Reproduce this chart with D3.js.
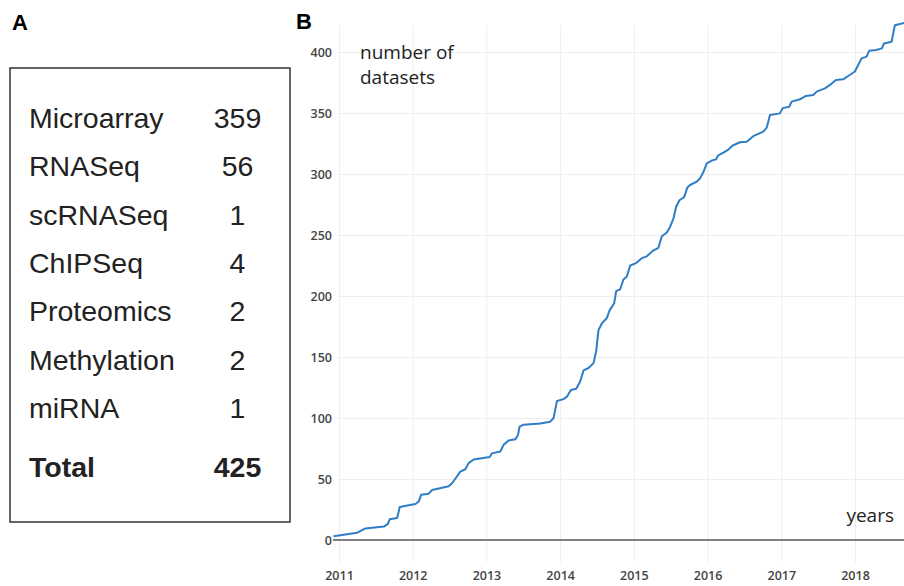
<!DOCTYPE html>
<html>
<head>
<meta charset="utf-8">
<script src="https://cdn.jsdelivr.net/npm/d3@7"></script>
<style>
  body { margin: 0; background: #fff; }
  svg { display: block; }
</style>
</head>
<body>
<div class="container"></div>
<script>
// panel A table
const categories = ["Microarray", "RNASeq", "scRNASeq", "ChIPSeq", "Proteomics", "Methylation", "miRNA"];
const counts = [359, 56, 1, 4, 2, 2, 1];
const totalLabel = "Total";
const totalCount = 425;

// panel B cumulative datasets (decimal year, count)
const years = [2010.925, 2011.247, 2011.359, 2011.607, 2011.661, 2011.688, 2011.789, 2011.824,
  2012.037, 2012.081, 2012.114, 2012.217, 2012.263, 2012.488, 2012.534, 2012.646, 2012.714,
  2012.759, 2012.827, 2013.043, 2013.076, 2013.188, 2013.233, 2013.301, 2013.392, 2013.428,
  2013.450, 2013.504, 2013.730, 2013.866, 2013.911, 2013.957, 2014.046, 2014.092, 2014.146,
  2014.218, 2014.272, 2014.317, 2014.385, 2014.453, 2014.489, 2014.520, 2014.566, 2014.634,
  2014.669, 2014.733, 2014.760, 2014.814, 2014.859, 2014.905, 2014.950, 2015.031, 2015.108,
  2015.176, 2015.255, 2015.333, 2015.379, 2015.447, 2015.492, 2015.537, 2015.573, 2015.618,
  2015.682, 2015.726, 2015.763, 2015.854, 2015.898, 2015.939, 2015.989, 2016.057, 2016.115,
  2016.146, 2016.214, 2016.282, 2016.332, 2016.400, 2016.440, 2016.531, 2016.620, 2016.756,
  2016.802, 2016.847, 2016.982, 2017.019, 2017.108, 2017.141, 2017.253, 2017.335, 2017.434,
  2017.480, 2017.592, 2017.660, 2017.741, 2017.840, 2017.908, 2017.999, 2018.043, 2018.089,
  2018.157, 2018.192, 2018.285, 2018.366, 2018.393, 2018.496, 2018.518, 2018.541, 2018.68];
const datasets = [3, 6, 9.5, 11, 13, 17, 18, 27,
  29.5, 31.5, 37, 38, 41, 44, 46.5, 56, 58,
  63, 66, 68, 71, 72.5, 78, 81.5, 82.5, 86,
  93, 94.5, 95.5, 97, 100, 114, 115.5, 117.5, 123,
  124, 130, 139, 141, 145, 155, 172, 177.5, 182,
  188, 194, 204, 205.5, 213.5, 216, 225, 227, 231,
  232.5, 237, 239.5, 249, 252, 256.8, 263.5, 273, 278.5,
  281, 289, 291, 293.7, 296.5, 301, 308.8, 311, 312,
  315.3, 317.5, 320, 323, 325, 326, 326.5, 331, 334.7,
  338, 348.4, 349.7, 354, 355.2, 359.3, 361.2, 364, 364.8,
  367.5, 370.2, 373, 377, 377.6, 380.3, 384, 389.3, 394.8,
  396.2, 401, 401.6, 403, 407, 408.4, 415, 422, 424];

const xTicks = [2011, 2012, 2013, 2014, 2015, 2016, 2017, 2018];
const yTicks = [0, 50, 100, 150, 200, 250, 300, 350, 400];

const w = 904;
const h = 586;

const svg = d3.select(".container")
              .append("svg")
              .attr("width", w)
              .attr("height", h);

// ---------- panel A ----------
svg.append("text")
   .attr("x", 12).attr("y", 30)
   .attr("font-family", "Liberation Sans, Arial, sans-serif")
   .attr("font-weight", "bold").attr("font-size", 22)
   .text("A");

svg.append("rect")
   .attr("x", 10).attr("y", 68)
   .attr("width", 280).attr("height", 454)
   .attr("fill", "none")
   .attr("stroke", "#333").attr("stroke-width", 1.5);

const rowY = d3.scaleLinear().domain([0, 1]).range([128, 176.3]);

const tbl = svg.append("g")
   .attr("font-family", "Liberation Sans, Arial, sans-serif")
   .attr("font-size", 28.5)
   .attr("fill", "#222");

tbl.selectAll(".cat")
   .data(categories)
   .enter()
   .append("text")
   .attr("class", "cat")
   .attr("x", 29)
   .attr("y", (d, i) => rowY(i))
   .text(d => d);

tbl.selectAll(".cnt")
   .data(counts)
   .enter()
   .append("text")
   .attr("class", "cnt")
   .attr("x", 237.5)
   .attr("y", (d, i) => rowY(i))
   .attr("text-anchor", "middle")
   .text(d => d);

tbl.append("text")
   .attr("x", 29).attr("y", 477)
   .attr("font-weight", "bold")
   .text(totalLabel);
tbl.append("text")
   .attr("x", 237.5).attr("y", 477)
   .attr("text-anchor", "middle")
   .attr("font-weight", "bold")
   .text(totalCount);

// ---------- panel B ----------
svg.append("text")
   .attr("x", 296).attr("y", 29)
   .attr("font-family", "Liberation Sans, Arial, sans-serif")
   .attr("font-weight", "bold").attr("font-size", 22)
   .text("B");

const xScale = d3.scaleLinear().domain([2011, 2018]).range([339, 855]);
const yScale = d3.scaleLinear().domain([0, 400]).range([540, 52]);

const plotLeft = 338, plotRight = 904, plotTop = 25, plotBottom = 562;

// grid
svg.append("g")
   .attr("transform", "translate(0," + plotBottom + ")")
   .call(d3.axisBottom(xScale).tickValues(xTicks).tickSize(-(plotBottom - plotTop)).tickFormat(""))
   .call(g => g.select(".domain").remove())
   .call(g => g.selectAll("line").attr("stroke", "#eeeeee").attr("stroke-width", 1));

svg.append("g")
   .attr("transform", "translate(" + plotLeft + ",0)")
   .call(d3.axisRight(yScale).tickValues(yTicks.slice(1)).tickSize(plotRight - plotLeft).tickFormat(""))
   .call(g => g.select(".domain").remove())
   .call(g => g.selectAll("line").attr("stroke", "#eeeeee").attr("stroke-width", 1));

// zero line
svg.append("line")
   .attr("x1", 333).attr("x2", plotRight)
   .attr("y1", yScale(0)).attr("y2", yScale(0))
   .attr("stroke", "#808080").attr("stroke-width", 2);

// tick labels
const yAxis = d3.axisLeft(yScale).tickValues(yTicks).tickSize(0).tickPadding(0);
svg.append("g")
   .attr("transform", "translate(332,0)")
   .call(yAxis)
   .call(g => g.select(".domain").remove())
   .call(g => g.selectAll("text")
      .attr("font-family", "Open Sans, sans-serif")
      .attr("font-size", 12.5)
      .attr("font-weight", 600)
      .attr("fill", "#444"));

const xAxis = d3.axisBottom(xScale).tickValues(xTicks).tickFormat(d3.format("d")).tickSize(0).tickPadding(0);
svg.append("g")
   .attr("transform", "translate(0,571)")
   .call(xAxis)
   .call(g => g.select(".domain").remove())
   .call(g => g.selectAll("text")
      .attr("font-family", "Open Sans, sans-serif")
      .attr("font-size", 12.5)
      .attr("font-weight", 600)
      .attr("fill", "#444"));

// line
const line = d3.line()
   .x((d, i) => xScale(years[i]))
   .y(d => yScale(d));

svg.append("defs").append("clipPath").attr("id", "clip")
   .append("rect").attr("x", 330).attr("y", 0).attr("width", plotRight - 330).attr("height", h);

svg.append("path")
   .datum(datasets)
   .attr("clip-path", "url(#clip)")
   .attr("fill", "none")
   .attr("stroke", "#2f7dc6")
   .attr("stroke-width", 2)
   .attr("stroke-linejoin", "round")
   .attr("d", line);

// annotations
const ann = svg.append("g")
   .attr("font-family", "Open Sans, sans-serif")
   .attr("font-size", 19)
   .attr("fill", "#222");
ann.append("text").attr("x", 360).attr("y", 59).text("number of");
ann.append("text").attr("x", 360).attr("y", 83.5).text("datasets");
ann.append("text").attr("x", 894).attr("y", 522).attr("text-anchor", "end").text("years");
</script>
</body>
</html>
